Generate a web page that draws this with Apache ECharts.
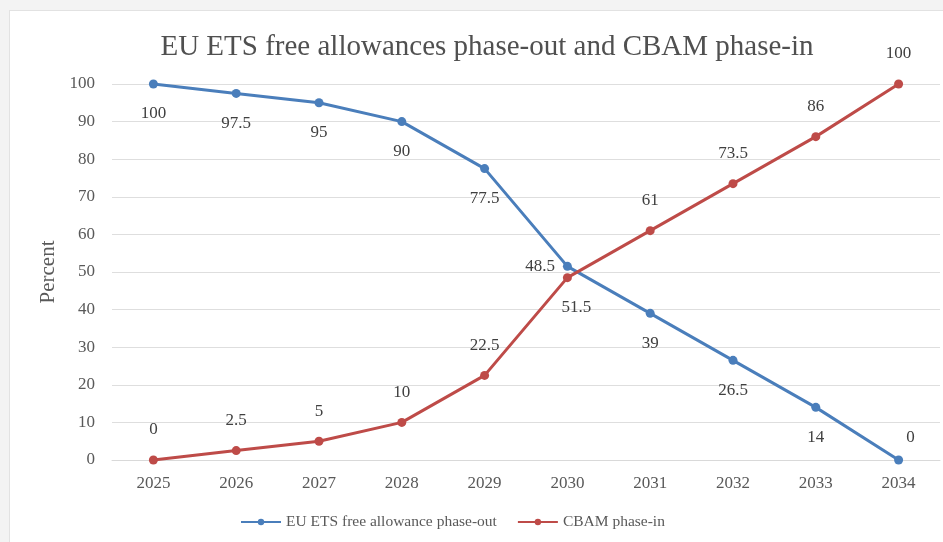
<!DOCTYPE html>
<html>
<head>
<meta charset="utf-8">
<script src="https://cdn.jsdelivr.net/npm/echarts@6/dist/echarts.min.js"></script>
<style>
  html, body { margin: 0; padding: 0; background: #f3f3f3; }
  #paper { position: absolute; left: 9px; top: 10px; width: 934px; height: 532px; background: #fff; border-left: 1px solid #e2e2e2; border-top: 1px solid #e2e2e2; }
  #main { position: absolute; left: 0; top: 0; width: 943px; height: 542px; }
</style>
</head>
<body>
<div id="paper"></div>
<div id="main"></div>
<script>
var years = ['2025', '2026', '2027', '2028', '2029', '2030', '2031', '2032', '2033', '2034'];
var etsFree = [100, 97.5, 95, 90, 77.5, 51.5, 39, 26.5, 14, 0];
var cbam = [0, 2.5, 5, 10, 22.5, 48.5, 61, 73.5, 86, 100];

var serif = '"Liberation Serif", "DejaVu Serif", serif';
var blue = '#4a7ebb';
var red = '#be4b48';

// a few labels sit differently in the original, next to the crossing and at the end
function blueData() {
  return etsFree.map(function (v, i) {
    if (i === 5) return { value: v, label: { position: 'bottom', distance: 28, offset: [9, 0] } };
    if (i === 9) return { value: v, label: { position: 'top', offset: [12, 8] } };
    return v;
  });
}
function redData() {
  return cbam.map(function (v, i) {
    if (i === 5) return { value: v, label: { position: 'left', distance: 8, offset: [0, -11] } };
    return v;
  });
}

var chart = echarts.init(document.getElementById('main'));
chart.setOption({
  backgroundColor: 'transparent',
  title: {
    text: 'EU ETS free allowances phase-out and CBAM phase-in',
    left: 482, top: 28, textAlign: 'center',
    textStyle: { fontFamily: serif, fontSize: 29, fontWeight: 'normal', color: '#505050' }
  },
  legend: {
    bottom: 7, left: 235, itemWidth: 40, itemHeight: 8, itemGap: 20,
    textStyle: { fontFamily: serif, fontSize: 15.5, color: '#595959' },
    data: ['EU ETS free allowance phase-out', 'CBAM phase-in']
  },
  grid: { left: 112, right: 3, top: 84, bottom: 82 },
  xAxis: {
    type: 'category', data: years,
    axisLine: { lineStyle: { color: '#d9d9d9' } },
    axisTick: { show: false },
    axisLabel: { fontFamily: serif, fontSize: 17, color: '#595959', margin: 15 }
  },
  yAxis: {
    type: 'value', min: 0, max: 100, interval: 10,
    name: 'Percent', nameLocation: 'middle', nameGap: 53,
    nameTextStyle: { fontFamily: serif, fontSize: 21, color: '#595959' },
    axisLine: { show: false }, axisTick: { show: false },
    splitLine: { lineStyle: { color: '#dedede' } },
    axisLabel: { fontFamily: serif, fontSize: 17, color: '#595959', margin: 17 }
  },
  series: [
    {
      name: 'EU ETS free allowance phase-out', type: 'line', data: blueData(),
      symbol: 'circle', symbolSize: 9,
      lineStyle: { color: blue, width: 3 }, itemStyle: { color: blue },
      label: { show: true, position: 'bottom', distance: 17, fontFamily: serif, fontSize: 17, color: '#404040' }
    },
    {
      name: 'CBAM phase-in', type: 'line', data: redData(),
      symbol: 'circle', symbolSize: 9,
      lineStyle: { color: red, width: 3 }, itemStyle: { color: red },
      label: { show: true, position: 'top', distance: 17, fontFamily: serif, fontSize: 17, color: '#404040' }
    }
  ]
});
</script>
</body>
</html>
